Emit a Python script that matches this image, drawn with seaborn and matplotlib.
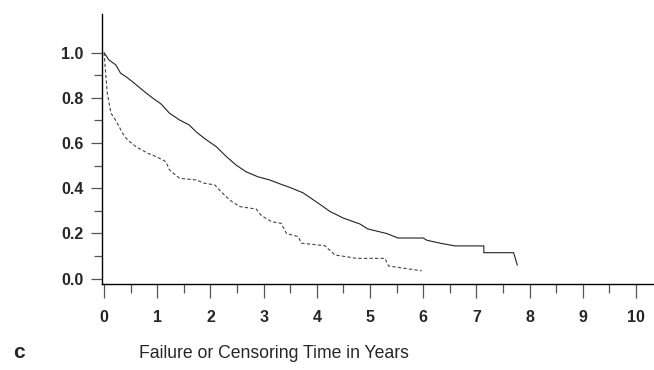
import matplotlib
matplotlib.use("Agg")
import matplotlib.pyplot as plt
from matplotlib import font_manager
import seaborn as sns
import pandas as pd

# Solid curve (group 1)
t_solid = [0.0, 0.09, 0.22, 0.31, 0.41, 0.53, 0.72, 0.88, 1.07, 1.23, 1.42, 1.60, 1.73,
           1.89, 2.11, 2.30, 2.48, 2.67, 2.89, 3.11, 3.30, 3.49, 3.74, 3.99, 4.25, 4.50,
           4.81, 4.96, 5.31, 5.53, 6.00, 6.07, 6.32, 6.60, 7.14, 7.14, 7.70, 7.77]
s_solid = [1.0, 0.968, 0.946, 0.909, 0.894, 0.872, 0.835, 0.805, 0.773, 0.732, 0.702, 0.68, 0.65,
           0.62, 0.584, 0.54, 0.503, 0.473, 0.451, 0.437, 0.42, 0.404, 0.38, 0.34, 0.297, 0.268,
           0.242, 0.22, 0.20, 0.18, 0.18, 0.17, 0.157, 0.145, 0.145, 0.115, 0.115, 0.06]

# Dashed curve (group 2)
t_dash = [0.0, 0.02, 0.06, 0.13, 0.22, 0.35, 0.44, 0.60, 0.82, 0.98, 1.16, 1.23, 1.42, 1.73,
          1.89, 2.08, 2.20, 2.36, 2.55, 2.86, 2.96, 3.15, 3.33, 3.43, 3.65, 3.71, 4.15, 4.34,
          4.75, 5.28, 5.35, 5.97]
s_dash = [1.0, 0.938, 0.82, 0.732, 0.70, 0.643, 0.614, 0.584, 0.555, 0.54, 0.518, 0.481, 0.444,
          0.437, 0.422, 0.415, 0.385, 0.348, 0.319, 0.308, 0.279, 0.252, 0.245, 0.20, 0.186,
          0.157, 0.146, 0.105, 0.09, 0.09, 0.056, 0.035]

x_ticks = list(range(0, 11))
y_ticks = [0.0, 0.2, 0.4, 0.6, 0.8, 1.0]
y_labels = ["0.0", "0.2", "0.4", "0.6", "0.8", "1.0"]
x_label = "Failure or Censoring Time in Years"
panel = "c"

sns.set_style("white")
plt.rcParams['font.family'] = ['Liberation Sans', 'DejaVu Sans']

installed = {f.name for f in font_manager.fontManager.ttflist}
if "Liberation Sans Narrow" in installed:
    title_family, title_size = ["Liberation Sans Narrow", "DejaVu Sans"], 15.3
else:
    title_family, title_size = ["Liberation Sans", "DejaVu Sans"], 12.7

fig = plt.figure(figsize=(6.54, 3.70), dpi=100)
ax = fig.add_axes([101.7/654, (370-284)/370, (654-101.7)/654, (284-14)/370])

df1 = pd.DataFrame({"t": t_solid, "s": s_solid})
df2 = pd.DataFrame({"t": t_dash, "s": s_dash})
sns.lineplot(data=df1, x="t", y="s", ax=ax, color="#222222", linewidth=0.8,
             estimator=None, sort=False)
sns.lineplot(data=df2, x="t", y="s", ax=ax, color="#444444", linewidth=0.8,
             linestyle=(0, (3, 2)), estimator=None, sort=False)

ax.set_xlim(-0.045, 10.34)
ax.set_ylim(-0.0235, 1.171)

ax.set_xticks(x_ticks)
ax.set_xticks([i + 0.5 for i in range(0, 10)], minor=True)
ax.set_yticks(y_ticks)
ax.set_yticklabels(y_labels)
ax.set_yticks([0.1, 0.3, 0.5, 0.7, 0.9], minor=True)
ax.set_xticklabels([str(v) for v in x_ticks])

for lab in ax.get_xticklabels() + ax.get_yticklabels():
    lab.set_fontweight("bold")
    lab.set_fontsize(11.5)

ax.tick_params(axis="x", which="major", direction="out", length=10, width=0.9,
               color="#555555", pad=9)
ax.tick_params(axis="x", which="minor", direction="out", length=6.5, width=0.9,
               color="#555555")
ax.tick_params(axis="y", which="major", direction="out", length=8, width=0.9,
               color="#555555", pad=5)
ax.tick_params(axis="y", which="minor", direction="out", length=5.5, width=0.9,
               color="#555555")
ax.tick_params(bottom=True, left=True, which="both")

for side in ["top", "right"]:
    ax.spines[side].set_visible(False)
for side in ["left", "bottom"]:
    ax.spines[side].set_color("black")
    ax.spines[side].set_linewidth(1.0)

ax.set_xlabel("")
ax.set_ylabel("")
ax.grid(False)

fig.text(274/654, 1 - 353/370, x_label, ha="center", va="center",
         fontsize=title_size, family=title_family)
fig.text(19/654, 1 - 352/370, panel, ha="center", va="center", fontsize=15, fontweight="bold")

fig.savefig("out.png", dpi=100)
